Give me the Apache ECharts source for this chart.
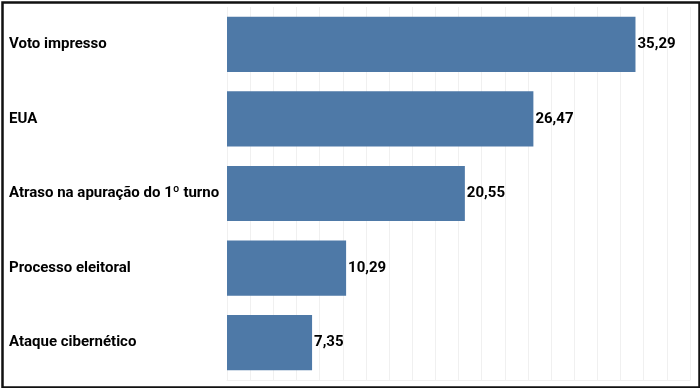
<!DOCTYPE html>
<html><head><meta charset="utf-8">
<script src="https://cdn.jsdelivr.net/npm/echarts@6/dist/echarts.min.js"></script>
<style>html,body{margin:0;padding:0;background:#fff}#c{width:700px;height:388px}</style>
</head><body><div id="c"></div>
<script>
const categories = ["Voto impresso", "EUA", "Atraso na apuração do 1º turno", "Processo eleitoral", "Ataque cibernético"];
const values = [35.29, 26.47, 20.55, 10.29, 7.35];

const chart = echarts.init(document.getElementById('c'), null, {renderer: 'canvas'});
const font = 'Roboto, "Noto Sans", sans-serif';
chart.setOption({
  animation: false,
  grid: {left: 227, right: 10, top: 7, bottom: 8, containLabel: false},
  xAxis: {
    type: 'value', min: 0, max: 40, interval: 2,
    axisLabel: {show: false}, axisTick: {show: false},
    axisLine: {show: true, lineStyle: {color: '#f0f0f0'}},
    splitLine: {show: true, lineStyle: {color: '#f0f0f0', width: 1}}
  },
  yAxis: {
    type: 'category', data: categories, inverse: true,
    axisLine: {show: false}, axisTick: {show: false},
    axisLabel: {align: 'left', margin: 218, color: '#000', fontFamily: font, fontWeight: 'bold', fontSize: 15}
  },
  series: [{
    type: 'bar', data: values, barCategoryGap: '26%',
    itemStyle: {color: '#4e79a7'},
    label: {show: true, position: 'right', distance: 2, color: '#000', fontFamily: font, fontWeight: 'bold', fontSize: 15,
      formatter: p => p.value.toFixed(2).replace('.', ',')}
  }],
  graphic: [{type: 'rect', left: 0, top: 0, z: 100, silent: true,
    shape: {x: 1, y: 1, width: 697, height: 385},
    style: {fill: 'none', stroke: '#111', lineWidth: 2.5}}]
});
</script></body></html>
